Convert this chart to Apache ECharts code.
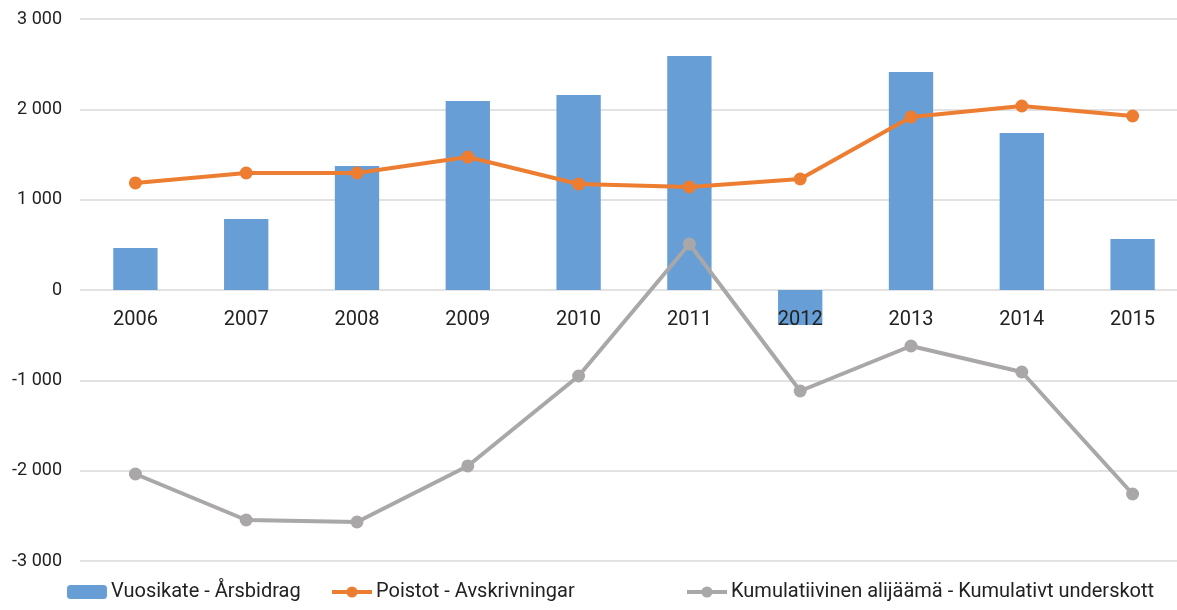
<!DOCTYPE html>
<html><head><meta charset="utf-8">
<script src="https://cdn.jsdelivr.net/npm/echarts@6/dist/echarts.min.js"></script>
<style>html,body{margin:0;padding:0;background:#fff}#c{width:1177px;height:610px}</style>
</head><body><div id="c"></div>
<script>
const years = ['2006','2007','2008','2009','2010','2011','2012','2013','2014','2015'];
const vuosikate = [465, 786, 1373, 2092, 2159, 2590, -387, 2413, 1738, 565];
const poistot = [1185, 1295, 1295, 1472, 1173, 1140, 1229, 1915, 2037, 1926];
const kumulatiivinen = [-2037, -2546, -2568, -1948, -952, 509, -1118, -620, -908, -2258];
const seriesNames = ['Vuosikate - Årsbidrag', 'Poistot - Avskrivningar', 'Kumulatiivinen alijäämä - Kumulativt underskott'];

const font = 'Roboto, sans-serif';
const colors = ['#689ed6', '#ed7d31', '#a9a7a8'];
const legendLeft = [62, 325, 680];
const chart = echarts.init(document.getElementById('c'), null, {renderer:'canvas'});
chart.setOption({
  animation: false,
  grid: {left: 80, top: 19, width: 1108, height: 542, outerBoundsMode: 'none', containLabel: false},
  legend: seriesNames.map((n, i) => ({
    bottom: 3, left: legendLeft[i], itemGap: 0, itemWidth: 40, itemHeight: 14,
    textStyle: {fontFamily: font, fontSize: 20, color: '#222', padding: [0, 0, 0, -1]},
    data: [i === 0 ? {name: n} : {name: n, lineStyle: {width: 4}}]
  })),
  xAxis: {
    type: 'category', data: years, position: 'bottom', offset: -271, z: 10,
    axisLine: {show: false, onZero: false}, axisTick: {show: false},
    axisLabel: {fontFamily: font, fontSize: 20, color: '#222', margin: 20}
  },
  yAxis: {
    type: 'value', min: -3000, max: 3000, interval: 1000,
    axisLabel: {fontFamily: font, fontSize: 18, color: '#222', margin: 18,
      formatter: v => { const s = Math.abs(v).toString(); const f = s.length > 3 ? s.slice(0, s.length-3) + ' ' + s.slice(-3) : s; return (v < 0 ? '-' : '') + f; }},
    splitLine: {lineStyle: {color: '#d9d9d9', width: 1.5}}
  },
  series: [
    {name: seriesNames[0], type: 'bar', data: vuosikate, barWidth: '40%', itemStyle: {color: colors[0]}},
    {name: seriesNames[1], type: 'line', data: poistot, symbol: 'circle', symbolSize: 13,
      lineStyle: {color: colors[1], width: 4}, itemStyle: {color: colors[1]}},
    {name: seriesNames[2], type: 'line', data: kumulatiivinen, symbol: 'circle', symbolSize: 13, z: 11,
      lineStyle: {color: colors[2], width: 4}, itemStyle: {color: colors[2]}}
  ]
});
</script></body></html>
